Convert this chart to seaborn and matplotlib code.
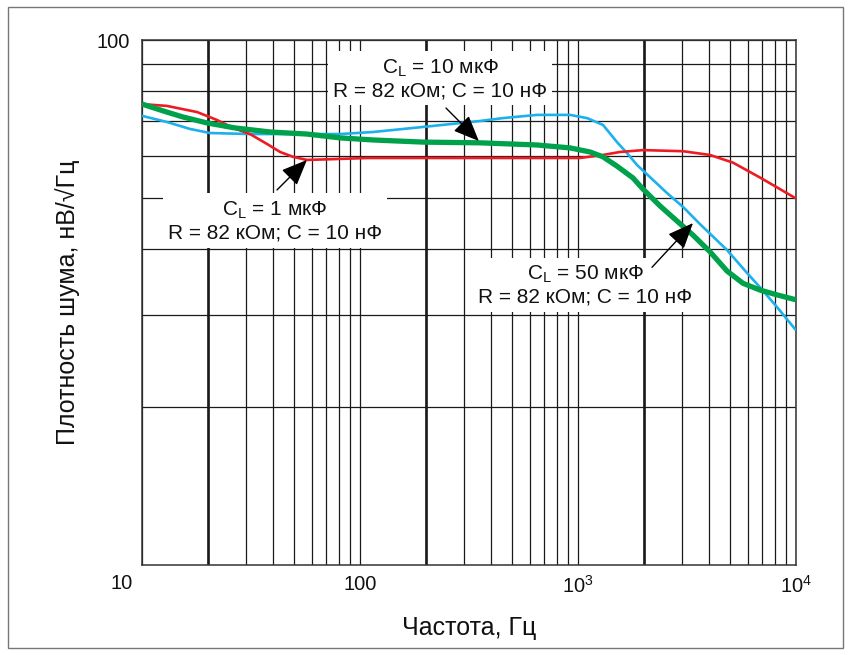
import numpy as np
import pandas as pd
import matplotlib
matplotlib.use("Agg")
import matplotlib.pyplot as plt
import seaborn as sns
from matplotlib.ticker import FixedLocator, NullFormatter
from matplotlib.patches import Rectangle

# ---------------- data ----------------
red_freq = [10, 13.0, 17.9, 22.1, 26.2, 31.3, 37.4, 43.0, 49.3, 57.1, 75.2, 108,
            355, 1020, 1300, 1560, 1990, 3030, 4030, 5140, 6840, 8180, 10000]
red_vals = [75.5, 74.9, 72.9, 70.4, 68.0, 66.2, 63.4, 61.2, 59.9, 59.1, 59.3, 59.6,
            59.6, 59.6, 60.4, 61.2, 61.7, 61.4, 60.4, 58.4, 54.7, 52.4, 49.9]

green_freq = [10, 13.0, 15.4, 19.9, 26.7, 38.7, 57.1, 80.9, 115, 195, 355, 648, 919,
              1135, 1302, 1510, 1788, 1987, 2378, 2846, 3369, 4032, 4827, 5714,
              6837, 8180, 10000]
green_vals = [75.5, 72.9, 71.35, 69.5, 68.0, 66.8, 66.2, 65.1, 64.5, 63.9, 63.7, 63.1,
              62.3, 61.2, 59.9, 57.5, 54.6, 52.0, 48.3, 45.2, 42.5, 39.5, 36.3, 34.4,
              33.4, 32.7, 32.0]

blue_freq = [10, 13.0, 16.6, 20.5, 31.3, 53.1, 80.9, 115, 195, 355, 453, 648, 919,
             1100, 1302, 1510, 1678, 1865, 2140, 2561, 3031, 3627, 4827, 5961, 6837,
             8180, 10000]
blue_vals = [71.7, 69.8, 67.7, 66.5, 66.2, 66.2, 66.2, 66.8, 68.3, 70.1, 71.0, 72.0,
             72.0, 71.0, 68.9, 63.9, 60.9, 57.8, 54.8, 51.1, 48.1, 44.6, 39.8, 36.0,
             33.8, 31.0, 28.0]

x_major = [10, 100, 1000, 10000]
x_major_labels = ["", "100", r"$\mathregular{10^3}$", r"$\mathregular{10^4}$"]
x_thick = [20, 200, 2000]
x_minor = [m * d for d in (10, 100, 1000) for m in range(2, 10)]
y_major = [100]
y_major_labels = ["100"]
y_minor = [20, 30, 40, 50, 60, 70, 80, 90]

label_1 = "C$_\\mathregular{L}$ = 1 мкФ\nR = 82 кОм; C = 10 нФ"
label_10 = "C$_\\mathregular{L}$ = 10 мкФ\nR = 82 кОм; C = 10 нФ"
label_50 = "C$_\\mathregular{L}$ = 50 мкФ\nR = 82 кОм; C = 10 нФ"
xlabel = "Частота, Гц"
ylabel = "Плотность шума, нВ/√Гц"

# ---------------- style ----------------
sns.set_style("white")
plt.rcParams['font.family'] = ['Liberation Sans', 'DejaVu Sans']
plt.rcParams['mathtext.fontset'] = 'custom'
plt.rcParams['mathtext.rm'] = 'Liberation Sans'
plt.rcParams['mathtext.it'] = 'Liberation Sans:italic'
plt.rcParams['mathtext.bf'] = 'Liberation Sans:bold'

RED = "#ED1C24"
GREEN = "#00A14B"
BLUE = "#1CB0EC"
GRID = "#1a1a1a"

fig = plt.figure(figsize=(8.51, 6.55), dpi=100)
ax = fig.add_axes([142 / 851, 90 / 655, 654 / 851, 525 / 655])

ax.set_xscale('log')
ax.set_yscale('log')
ax.set_xlim(10, 10000)
ax.set_ylim(10, 100)

# grid
ax.xaxis.set_major_locator(FixedLocator(x_major))
ax.xaxis.set_minor_locator(FixedLocator(x_minor))
ax.xaxis.set_minor_formatter(NullFormatter())
ax.set_xticklabels(x_major_labels)
ax.yaxis.set_major_locator(FixedLocator(y_major))
ax.yaxis.set_minor_locator(FixedLocator(y_minor))
ax.yaxis.set_minor_formatter(NullFormatter())
ax.set_yticklabels(y_major_labels)
ax.grid(True, which='both', color=GRID, linewidth=0.9, zorder=0)
ax.set_axisbelow(True)
for xv in x_thick:
    ax.axvline(xv, color=GRID, linewidth=1.9, zorder=0.5)

ax.tick_params(axis='both', which='both', length=0, labelsize=14.5, colors="#111111")
ax.tick_params(axis='x', pad=7)
ax.tick_params(axis='y', pad=9)
for s in ax.spines.values():
    s.set_color("#333333")
    s.set_linewidth(1.1)

# curves
sns.lineplot(x=blue_freq, y=blue_vals, ax=ax, color=BLUE, linewidth=1.9,
             estimator=None, sort=False, zorder=3)
sns.lineplot(x=red_freq, y=red_vals, ax=ax, color=RED, linewidth=1.9,
             estimator=None, sort=False, zorder=4)
sns.lineplot(x=green_freq, y=green_vals, ax=ax, color=GREEN, linewidth=3.8,
             estimator=None, sort=False, zorder=5)
for ln in ax.get_lines():
    ln.set_solid_joinstyle('round')
    ln.set_solid_capstyle('butt')

# annotations (text boxes + arrows)
box = dict(boxstyle="square,pad=0.25", facecolor="white", edgecolor="none")
tkw = dict(ha='center', va='center', fontsize=15, linespacing=1.15,
           multialignment='center', bbox=box, zorder=6, color="#111111")
ax.text(40.7, 45.2, label_1, **tkw)
ax.text(233, 84.3, label_10, **tkw)
ax.text(1077, 34.1, label_50, **tkw)

akw = dict(arrowstyle="-|>,head_length=1.0,head_width=0.42", color="black",
           linewidth=1.0, shrinkA=0, shrinkB=0, mutation_scale=16)
ax.annotate("", xy=(red_freq[9], red_vals[9]), xytext=(41.6, 51.8),
            arrowprops=akw, zorder=7)
ax.annotate("", xy=(351, 64.2), xytext=(248, 74.2), arrowprops=akw, zorder=7)
ax.annotate("", xy=(3369, 44.8), xytext=(2185, 36.9), arrowprops=akw, zorder=7)

# "10" at the origin corner
ax.annotate("10", xy=(0, 0), xycoords='axes fraction', xytext=(-14.5, -13),
            textcoords='offset points', ha='center', va='center', fontsize=14.5,
            color="#111111")

ax.set_xlabel(xlabel, fontsize=18, color="#111111")
ax.set_ylabel(ylabel, fontsize=18, color="#111111")
ax.xaxis.set_label_coords(0.5, -(628 - 565) / 525)
ax.xaxis.label.set_va('center')
ax.yaxis.set_label_coords((68 - 142) / 654, 0.5)
ax.yaxis.label.set_va('center')

# outer frame
fig.patches.append(Rectangle((8 / 851, 7 / 655), 835 / 851, 641 / 655,
                             transform=fig.transFigure, fill=False,
                             edgecolor="#777777", linewidth=1.0))

fig.savefig("out.png", dpi=100)
